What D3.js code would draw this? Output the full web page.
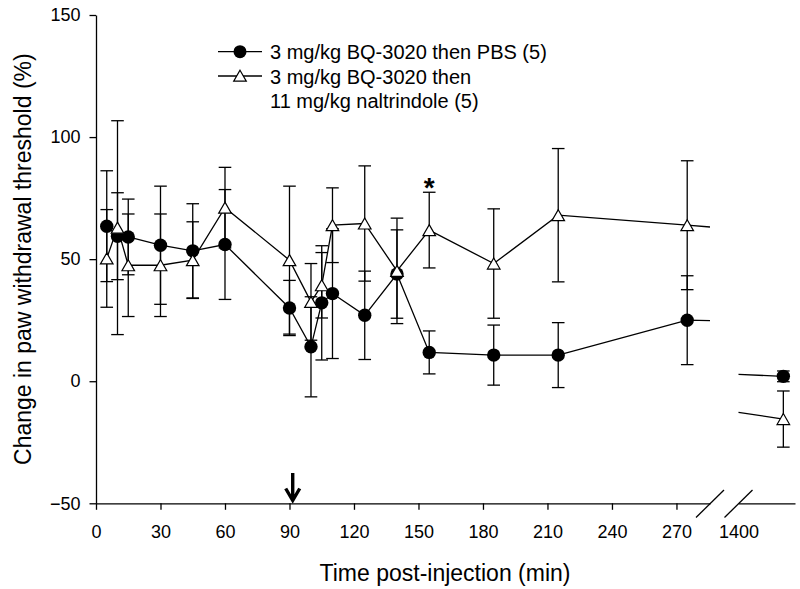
<!DOCTYPE html>
<html>
<head>
<meta charset="utf-8">
<script src="https://cdn.jsdelivr.net/npm/d3@7"></script>
<style>
  html, body { margin: 0; padding: 0; background: #fff; }
  svg { display: block; }
  text { font-family: Arial, "Liberation Sans", sans-serif; fill: #000; }
</style>
</head>
<body>
<svg id="chart" width="800" height="589"></svg>
<script>
// ---- data ----
const times = [5, 10, 15, 30, 45, 60, 90, 100, 105, 110, 125, 140, 155, 185, 215, 275, 1440];
const pbsMean = [63.5, 59.4, 59.1, 55.7, 53.4, 56.0, 30.0, 14.1, 32.1, 35.9, 27.0, 43.9, 11.8, 10.7, 10.7, 25.0, 2.0];
const pbsErr  = [22.7, 17.8, 15.5, 24.2, 19.3, 22.5, 11.3, 20.5, 23.4, 26.6, 18.1, 18.1, 8.8, 12.3, 13.3, 18.2, 2.2];
const nalMean = [50.3, 62.9, 47.5, 47.5, 49.6, 71.1, 49.6, 32.5, 39.3, 63.9, 64.6, 45.2, 61.9, 48.2, 68.0, 63.9, -15.5];
const nalErr  = [20.0, 43.8, 21.0, 21.0, 15.7, 16.5, 30.3, 15.7, 13.4, 15.3, 23.6, 21.6, 15.5, 22.4, 27.3, 26.4, 11.5];
const seriesNames = ["3 mg/kg BQ-3020 then PBS (5)", "3 mg/kg BQ-3020 then", "11 mg/kg naltrindole (5)"];
const yTicks = [-50, 0, 50, 100, 150];
const xTicks = [0, 30, 60, 90, 120, 150, 180, 210, 240, 270];
const breakLabels = [1400];
const arrowTime = [91.5];
const starTime = [155];

// ---- scales ----
const svg = d3.select("#chart");
const breakStart = 285.6, breakEnd = 1400;
const x1 = d3.scaleLinear().domain([0, breakStart]).range([96, 710]);
const x2 = d3.scaleLinear().domain([breakEnd, 1450.4]).range([738.5, 795]);
const xPos = t => (t <= breakStart ? x1(t) : x2(t));
const y = d3.scaleLinear().domain([-50, 150]).range([503.3, 15]);

const SW = 1.3;
const FONT = "Arial, 'Liberation Sans', sans-serif";

// ---- axes ----
const yAxis = svg.append("g").attr("transform", "translate(96,0)")
  .call(d3.axisLeft(y).tickValues(yTicks).tickSize(6.5).tickSizeOuter(0).tickPadding(9));
yAxis.selectAll("text").style("font-size", "18px").style("font-family", FONT);

const xAxis1 = svg.append("g").attr("transform", "translate(0,503.3)")
  .call(d3.axisBottom(x1).tickValues(xTicks).tickSize(6.5).tickSizeOuter(0).tickPadding(15));
xAxis1.selectAll("text").style("font-size", "18px").style("font-family", FONT);

const xAxis2 = svg.append("g").attr("transform", "translate(0,503.3)")
  .call(d3.axisBottom(x2).tickValues(breakLabels).tickFormat(d3.format("d"))
    .tickSize(0).tickSizeOuter(0).tickPadding(21.5));
xAxis2.selectAll("text").style("font-size", "18px").style("font-family", FONT);

svg.selectAll(".domain, .tick line").attr("stroke", "#000").attr("stroke-width", SW);

// break slashes
[x1(breakStart), x2(breakEnd)].forEach(cx => {
  svg.append("line")
    .attr("x1", cx - 14).attr("y1", 517.5).attr("x2", cx + 14).attr("y2", 490)
    .attr("stroke", "#000").attr("stroke-width", SW);
});

// axis titles
svg.append("text")
  .attr("x", 445).attr("y", 581)
  .attr("text-anchor", "middle")
  .style("font-size", "23px")
  .text("Time post-injection (min)");

svg.append("text")
  .attr("transform", "translate(31," + y(50) + ") rotate(-90)")
  .attr("text-anchor", "middle")
  .style("font-size", "23px")
  .text("Change in paw withdrawal threshold (%)");

// ---- series ----
function interp(means, t) {
  const i = times.length - 2;
  const t0 = times[i], t1 = times[i + 1];
  return means[i] + (means[i + 1] - means[i]) * (t - t0) / (t1 - t0);
}
const line = d3.line().x(d => xPos(d[0])).y(d => y(d[1]));

function drawLines(means) {
  const segA = times.map((t, i) => [t, means[i]]).filter(d => d[0] <= breakStart);
  segA.push([breakStart, interp(means, breakStart)]);
  const segB = [[breakEnd, interp(means, breakEnd)]];
  times.forEach((t, i) => { if (t > breakStart) segB.push([t, means[i]]); });
  [segA, segB].forEach(seg => {
    svg.append("path").attr("d", line(seg))
      .attr("fill", "none").attr("stroke", "#000").attr("stroke-width", SW);
  });
}
function drawErrors(means, errs) {
  const g = svg.append("g").attr("stroke", "#000").attr("stroke-width", SW);
  times.forEach((t, i) => {
    const cx = xPos(t), top = y(means[i] + errs[i]), bot = y(means[i] - errs[i]);
    g.append("line").attr("x1", cx).attr("x2", cx).attr("y1", top).attr("y2", bot);
    g.append("line").attr("x1", cx - 6.3).attr("x2", cx + 6.3).attr("y1", top).attr("y2", top);
    g.append("line").attr("x1", cx - 6.3).attr("x2", cx + 6.3).attr("y1", bot).attr("y2", bot);
  });
}
function triPath(cx, cy) {
  const w = 6.3, h = 5.5;
  return `M${cx},${cy - h}L${cx + w},${cy + h}L${cx - w},${cy + h}Z`;
}

drawLines(pbsMean);
drawLines(nalMean);
drawErrors(pbsMean, pbsErr);
drawErrors(nalMean, nalErr);

svg.append("g").selectAll("circle").data(times).join("circle")
  .attr("cx", d => xPos(d)).attr("cy", (d, i) => y(pbsMean[i])).attr("r", 6.7)
  .attr("fill", "#000");

svg.append("g").selectAll("path").data(times).join("path")
  .attr("d", (d, i) => triPath(xPos(d), y(nalMean[i])))
  .attr("fill", "#fff").attr("stroke", "#000").attr("stroke-width", 1.2);

// significance star
starTime.forEach(t => {
  svg.append("text").attr("x", xPos(t)).attr("y", 196.5)
    .attr("text-anchor", "middle")
    .style("font-size", "28px").style("font-weight", "bold")
    .text("*");
});

// arrow (second injection)
arrowTime.forEach(t => {
  const ax = xPos(t);
  svg.append("path")
    .attr("d", `M${ax},473L${ax},500M${ax - 7},488.5L${ax},500.5L${ax + 7},488.5`)
    .attr("fill", "none").attr("stroke", "#000").attr("stroke-width", 3.4)
    .attr("stroke-linejoin", "miter");
});

// ---- legend ----
const lg = svg.append("g");
lg.append("line").attr("x1", 218).attr("x2", 262).attr("y1", 51.7).attr("y2", 51.7)
  .attr("stroke", "#000").attr("stroke-width", SW);
lg.append("circle").attr("cx", 240).attr("cy", 51.7).attr("r", 6.5).attr("fill", "#000");
lg.append("line").attr("x1", 218).attr("x2", 262).attr("y1", 76).attr("y2", 76)
  .attr("stroke", "#000").attr("stroke-width", SW);
lg.append("path").attr("d", triPath(240, 75.7))
  .attr("fill", "#fff").attr("stroke", "#000").attr("stroke-width", 1.2);
[59.3, 84, 108.3].forEach((by, i) => {
  lg.append("text").attr("x", 270).attr("y", by).style("font-size", "20px").text(seriesNames[i]);
});
</script>
</body>
</html>
